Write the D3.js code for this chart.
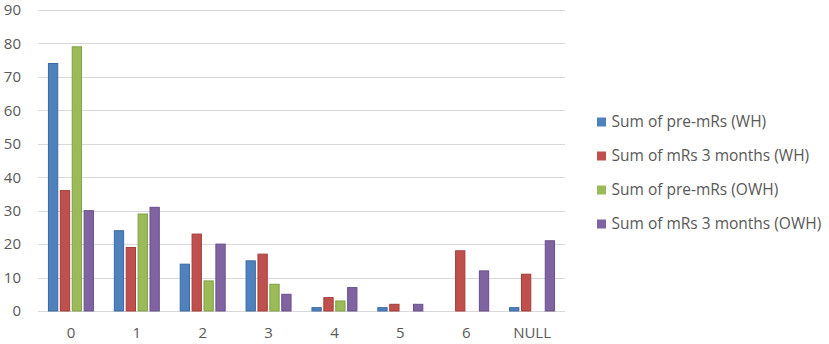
<!DOCTYPE html>
<html>
<head>
<meta charset="utf-8">
<script src="https://cdn.jsdelivr.net/npm/d3@7"></script>
<style>
body { margin: 0; background: #fff; }
text { font-family: "Open Sans", sans-serif; fill: #595959; }
</style>
</head>
<body>
<svg id="drawing_region"></svg>
<script>
const categories = ["0", "1", "2", "3", "4", "5", "6", "NULL"];
const seriesNames = ["Sum of pre-mRs (WH)", "Sum of mRs 3 months (WH)", "Sum of pre-mRs (OWH)", "Sum of mRs 3 months (OWH)"];
const preWH = [74, 24, 14, 15, 1, 1, 0, 1];
const mrs3WH = [36, 19, 23, 17, 4, 2, 18, 11];
const preOWH = [79, 29, 9, 8, 3, 0, 0, 0];
const mrs3OWH = [30, 31, 20, 5, 7, 2, 12, 21];
const yTicks = [0, 10, 20, 30, 40, 50, 60, 70, 80, 90];
const colors = ["#4f81bd", "#c0504d", "#9bbb59", "#8064a2"];
const strokes = ["#3a6aa3", "#a33d3a", "#82a044", "#67508a"];

const allSeries = [preWH, mrs3WH, preOWH, mrs3OWH];

const config = {
  width: 829, height: 344,
  margin: {top: 10, right: 264, bottom: 33, left: 38}
};

const svg = d3.select('#drawing_region')
  .attr('width', config.width)
  .attr('height', config.height);

const inner_width = config.width - config.margin.left - config.margin.right;
const inner_height = config.height - config.margin.top - config.margin.bottom;

const chart = svg.append('g')
  .attr('transform', `translate(${config.margin.left}, ${config.margin.top})`);

const xscale = d3.scaleBand().domain(categories).range([0, inner_width]).paddingInner(0.317).paddingOuter(0.1585);
const xsub = d3.scaleBand().domain(d3.range(4)).range([0, xscale.bandwidth()]).paddingInner(0.218);
const yscale = d3.scaleLinear().domain([0, 90]).range([inner_height, 0]);

// gridlines
chart.selectAll('.grid')
  .data(yTicks)
  .enter()
  .append('line')
  .attr('x1', 0)
  .attr('x2', inner_width)
  .attr('y1', d => Math.round(yscale(d)) + 0.5)
  .attr('y2', d => Math.round(yscale(d)) + 0.5)
  .attr('stroke', '#d9d9d9')
  .attr('stroke-width', 1);

// y labels
const yaxis = d3.axisLeft(yscale).tickValues(yTicks).tickSize(0).tickPadding(17);
const yg = chart.append('g').call(yaxis);
yg.select('.domain').remove();
yg.selectAll('text').attr('font-size', 15).style('font-family', '"Open Sans", sans-serif').attr('fill', '#595959');

// x labels
const xaxis = d3.axisBottom(xscale).tickSize(0).tickPadding(16);
const xg = chart.append('g').attr('transform', `translate(0, ${inner_height})`).call(xaxis);
xg.select('.domain').remove();
xg.selectAll('text').attr('font-size', 15).style('font-family', '"Open Sans", sans-serif').attr('fill', '#595959');

// bars
const groups = chart.selectAll('.cat')
  .data(categories)
  .enter()
  .append('g')
  .attr('transform', d => `translate(${xscale(d)},0)`);

groups.selectAll('rect')
  .data((d, i) => allSeries.map((s, k) => ({k: k, v: s[i]})).filter(e => e.v > 0))
  .enter()
  .append('rect')
  .attr('x', d => xsub(d.k))
  .attr('width', xsub.bandwidth())
  .attr('y', d => yscale(d.v))
  .attr('height', d => inner_height - yscale(d.v))
  .attr('fill', d => colors[d.k])
  .attr('stroke', d => strokes[d.k])
  .attr('stroke-width', 1);

// legend
const legend = svg.append('g').attr('transform', 'translate(597, 122)');
const items = legend.selectAll('g')
  .data(seriesNames)
  .enter()
  .append('g')
  .attr('transform', (d, i) => `translate(0, ${i * 34})`);
items.append('rect')
  .attr('x', 0).attr('y', -4.5)
  .attr('width', 9).attr('height', 9)
  .attr('fill', (d, i) => colors[i]);
items.append('text')
  .attr('x', 14.5)
  .attr('dy', '0.35em')
  .attr('font-size', 15.5)
  .text(d => d);
</script>
</body>
</html>
